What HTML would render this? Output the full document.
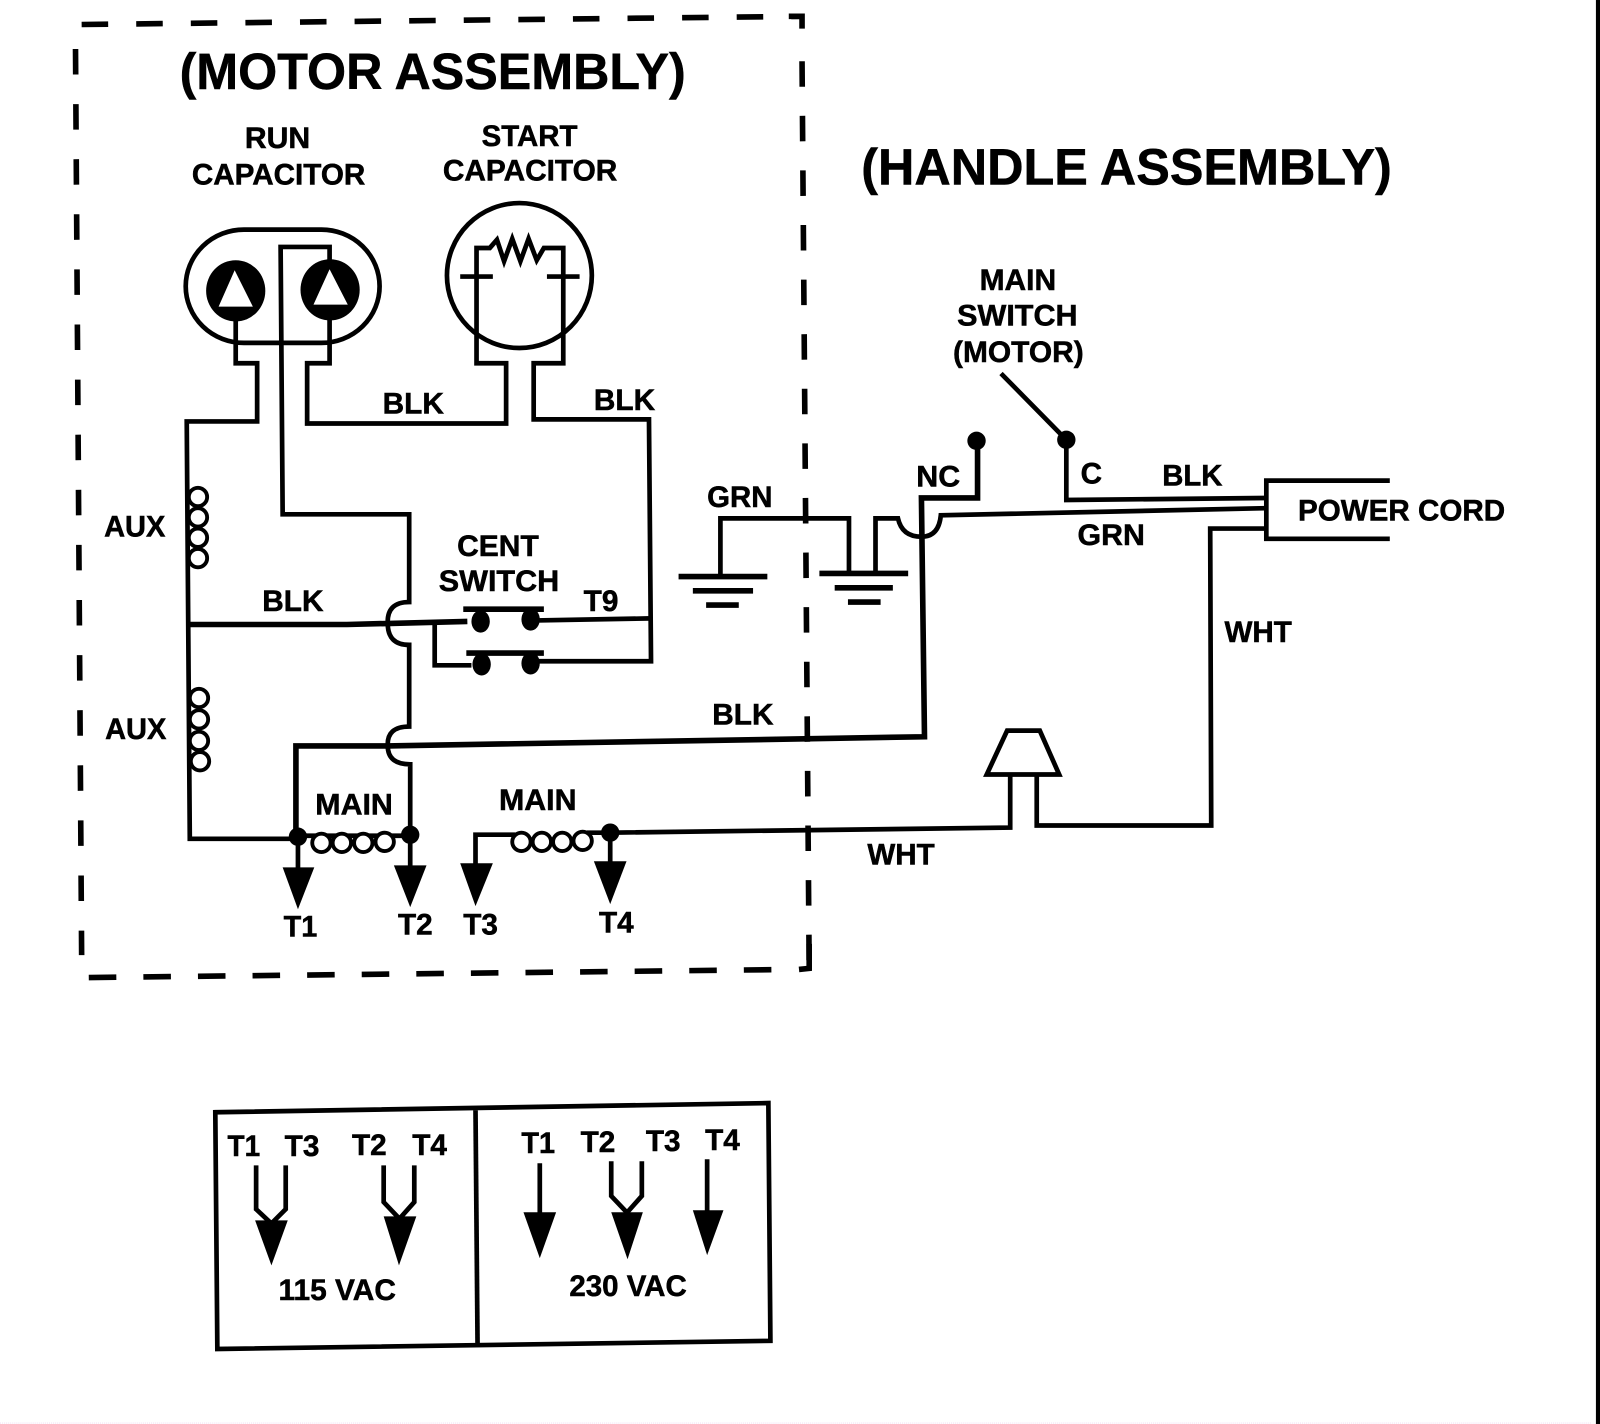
<!DOCTYPE html>
<html><head><meta charset="utf-8"><style>
html,body{margin:0;padding:0;background:#fff}
svg{display:block}
text{font-family:"Liberation Sans",sans-serif;font-weight:bold;fill:#000;stroke:#000;stroke-width:.5}
.w{fill:none;stroke:#000;stroke-width:4.6;stroke-linejoin:miter}
.t{font-size:29px}
</style></head><body>
<svg xmlns="http://www.w3.org/2000/svg" width="1600" height="1424" viewBox="0 0 1568 1395.5">
<rect width="1568" height="1395.5" fill="#fff"/>
<rect x="1564" y="0" width="4" height="1395.5" fill="#000"/>
<line x1="0" y1="1394.6" x2="1560" y2="1394.6" stroke="#f3dff3" stroke-width="1" stroke-dasharray="1 1"/>

<!-- dashed assembly border -->
<g fill="none" stroke="#000" stroke-width="5.5">
<path d="M80 24 L787 16" stroke-dasharray="26 27.5"/>
<path d="M74 48 L80 936" stroke-dasharray="25 29"/>
<path d="M773 16 L786 16 L786 28"/>
<path d="M786 60 L793 950" stroke-dasharray="25 28.5"/>
<path d="M87 958 L780 950" stroke-dasharray="27 26.5"/>
<path d="M793 925 L793 949 L783 950"/>
</g>

<text x="176" y="87" font-size="50" textLength="496" lengthAdjust="spacingAndGlyphs">(MOTOR ASSEMBLY)</text>
<text x="844" y="181" font-size="50" textLength="520" lengthAdjust="spacingAndGlyphs">(HANDLE ASSEMBLY)</text>

<!-- run capacitor -->
<rect x="182" y="225" width="190" height="111" rx="57" ry="55.5" class="w"/>
<ellipse cx="231" cy="285" rx="29" ry="30" fill="#000"/>
<ellipse cx="323.500" cy="284" rx="29" ry="30" fill="#000"/>
<polygon points="230,266 247,300 215,300" fill="#fff" stroke="#fff"/>
<polygon points="323,265 340,298 308,298" fill="#fff" stroke="#fff"/>
<path class="w" d="M231 312 V356 H252 V413 H183 L186 822 H292"/>
<path class="w" d="M323 260 V242 H275 L277 504 H401 V590 Q379 590 380 611 Q380 632 401 632 V712 Q379 712 380 731 Q380 749 402 749 V820"/>
<path class="w" d="M323 312 V356 H301 V415 H496 V356 H467 V243 H480 L487 235 L494 256 L502 234 L510 256 L518 234 L526 255 L533 243 H552 V356 H523 V411 H636 L638 648 H522"/>

<!-- start capacitor -->
<circle cx="509" cy="270" r="71" class="w"/>
<path class="w" d="M451 271 H483 M536 271 H568"/>

<!-- aux coils -->
<g fill="#fff" stroke="#000" stroke-width="3.8">
<circle cx="194" cy="487" r="9"/><circle cx="194" cy="507" r="9"/><circle cx="194" cy="527" r="9"/><circle cx="194" cy="547" r="9"/>
<circle cx="195" cy="684" r="9"/><circle cx="195" cy="705" r="9"/><circle cx="195" cy="726" r="9"/><circle cx="196" cy="746" r="9"/>
</g>

<!-- BLK lines -->
<path class="w" style="stroke-width:5.5" d="M185 612 H340 L458 609"/>
<path class="w" d="M426 610 V652 H462"/>
<path class="w" d="M526 608 L638 606"/>
<path class="w" style="stroke-width:5.5" d="M290 820 V731 H380 L906 722 L903 488 H958 V432"/>

<!-- centrifugal switch -->
<path class="w" style="stroke-width:5.5" d="M454 597 H533 M457 640 H533"/>
<g fill="#000">
<ellipse cx="471" cy="609" rx="9" ry="11"/><ellipse cx="520" cy="607" rx="9" ry="11"/>
<ellipse cx="472" cy="651" rx="9" ry="11"/><ellipse cx="520" cy="650" rx="9" ry="11"/>
</g>

<!-- main coils -->
<path class="w" d="M292 819 H402"/>
<g fill="#fff" stroke="#000" stroke-width="3.8">
<circle cx="315" cy="826" r="9"/><circle cx="335" cy="826" r="9"/><circle cx="356" cy="826" r="9"/><circle cx="377" cy="825" r="9"/>
</g>
<path class="w" d="M466 850 V818 H505"/>
<path class="w" d="M575 816 H598 L990 811 V760 M1016 760 V809 H1187 L1186 518 H1240"/>
<g fill="#fff" stroke="#000" stroke-width="3.8">
<circle cx="511" cy="825" r="9"/><circle cx="531" cy="825" r="9"/><circle cx="551" cy="825" r="9"/><circle cx="571" cy="824" r="9"/>
</g>
<g fill="#000">
<circle cx="292" cy="820" r="9"/><circle cx="402" cy="818" r="9"/><circle cx="598" cy="816" r="9"/>
<polygon points="277,850 308,850 292,891"/>
<polygon points="386,848 418,848 402,889"/>
<polygon points="451,846 483,846 466,888"/>
<polygon points="582,844 614,844 598,886"/>
</g>
<path class="w" d="M292 820 V855 M402 818 V855 M598 816 V850"/>

<!-- grounds -->
<path class="w" d="M706 564 V508 H832 V561 M858 561 V508 H880 Q884 526 903 526 Q920 526 922 505 L1240 498"/>
<path class="w" style="stroke-width:5.5" d="M665 565 H752 M679 579 H738 M692 593 H724 M803 562 H890 M818 576 H875 M831 590 H863"/>

<!-- main switch -->
<circle cx="957" cy="432" r="9" fill="#000"/>
<circle cx="1045" cy="431" r="9" fill="#000"/>
<path class="w" d="M981 366 L1045 431 V490 L1240 488"/>
<path class="w" d="M1362 471 H1241 V528 H1362"/>

<!-- horn -->
<polygon class="w" points="987,716 1019,716 1038,759 967,759"/>

<!-- labels -->
<g class="t">
<text x="240" y="145" textLength="64" lengthAdjust="spacingAndGlyphs">RUN</text>
<text x="188" y="181" textLength="170" lengthAdjust="spacingAndGlyphs">CAPACITOR</text>
<text x="472" y="143" textLength="94" lengthAdjust="spacingAndGlyphs">START</text>
<text x="434" y="177" textLength="171" lengthAdjust="spacingAndGlyphs">CAPACITOR</text>
<text x="375" y="405" textLength="60" lengthAdjust="spacingAndGlyphs">BLK</text>
<text x="582" y="402" textLength="60" lengthAdjust="spacingAndGlyphs">BLK</text>
<text x="102" y="526" textLength="60" lengthAdjust="spacingAndGlyphs">AUX</text>
<text x="103" y="724" textLength="60" lengthAdjust="spacingAndGlyphs">AUX</text>
<text x="257" y="599" textLength="60" lengthAdjust="spacingAndGlyphs">BLK</text>
<text x="448" y="545" textLength="80" lengthAdjust="spacingAndGlyphs">CENT</text>
<text x="430" y="579" textLength="118" lengthAdjust="spacingAndGlyphs">SWITCH</text>
<text x="572" y="599" textLength="34" lengthAdjust="spacingAndGlyphs">T9</text>
<text x="698" y="710" textLength="60" lengthAdjust="spacingAndGlyphs">BLK</text>
<text x="309" y="798" textLength="76" lengthAdjust="spacingAndGlyphs">MAIN</text>
<text x="489" y="794" textLength="76" lengthAdjust="spacingAndGlyphs">MAIN</text>
<text x="278" y="918" textLength="33" lengthAdjust="spacingAndGlyphs">T1</text>
<text x="390" y="916" textLength="34" lengthAdjust="spacingAndGlyphs">T2</text>
<text x="454" y="916" textLength="34" lengthAdjust="spacingAndGlyphs">T3</text>
<text x="587" y="914" textLength="34" lengthAdjust="spacingAndGlyphs">T4</text>
<text x="693" y="497" textLength="64" lengthAdjust="spacingAndGlyphs">GRN</text>
<text x="898" y="477" textLength="43" lengthAdjust="spacingAndGlyphs">NC</text>
<text x="1059" y="474" textLength="21" lengthAdjust="spacingAndGlyphs">C</text>
<text x="1139" y="476" textLength="59" lengthAdjust="spacingAndGlyphs">BLK</text>
<text x="1056" y="534" textLength="66" lengthAdjust="spacingAndGlyphs">GRN</text>
<text x="1272" y="510" textLength="203" lengthAdjust="spacingAndGlyphs">POWER CORD</text>
<text x="1200" y="629" textLength="66" lengthAdjust="spacingAndGlyphs">WHT</text>
<text x="850" y="847" textLength="66" lengthAdjust="spacingAndGlyphs">WHT</text>
<text x="960" y="284" textLength="75" lengthAdjust="spacingAndGlyphs">MAIN</text>
<text x="938" y="319" textLength="118" lengthAdjust="spacingAndGlyphs">SWITCH</text>
<text x="934" y="355" textLength="128" lengthAdjust="spacingAndGlyphs">(MOTOR)</text>
<text x="223" y="1133" textLength="32" lengthAdjust="spacingAndGlyphs">T1</text>
<text x="279" y="1133" textLength="34" lengthAdjust="spacingAndGlyphs">T3</text>
<text x="345" y="1132" textLength="34" lengthAdjust="spacingAndGlyphs">T2</text>
<text x="404" y="1132" textLength="34" lengthAdjust="spacingAndGlyphs">T4</text>
<text x="273" y="1274" textLength="115" lengthAdjust="spacingAndGlyphs">115 VAC</text>
<text x="511" y="1130" textLength="33" lengthAdjust="spacingAndGlyphs">T1</text>
<text x="569" y="1129" textLength="34" lengthAdjust="spacingAndGlyphs">T2</text>
<text x="633" y="1128" textLength="34" lengthAdjust="spacingAndGlyphs">T3</text>
<text x="691" y="1127" textLength="34" lengthAdjust="spacingAndGlyphs">T4</text>
<text x="558" y="1270" textLength="115" lengthAdjust="spacingAndGlyphs">230 VAC</text>
</g>

<!-- voltage table -->
<polygon class="w" points="211,1090 753,1081 755,1314 213,1322"/>
<path class="w" d="M466 1088 L468 1318"/>
<path class="w" d="M251 1142 V1185 L268 1201 M280 1142 V1185 L264 1201"/>
<path class="w" d="M376 1142 V1178 L393 1196 M406 1142 V1178 L390 1196"/>
<path class="w" d="M529 1140 V1192 M693 1136 V1190"/>
<path class="w" d="M599 1138 V1172 L616 1190 M629 1138 V1172 L613 1190"/>
<g fill="#000">
<polygon points="250,1196 282,1196 266,1240"/>
<polygon points="376,1192 408,1192 391,1240"/>
<polygon points="513,1188 545,1188 529,1233"/>
<polygon points="599,1188 630,1188 615,1234"/>
<polygon points="679,1186 709,1186 693,1230"/>
</g>
</svg>
</body></html>
